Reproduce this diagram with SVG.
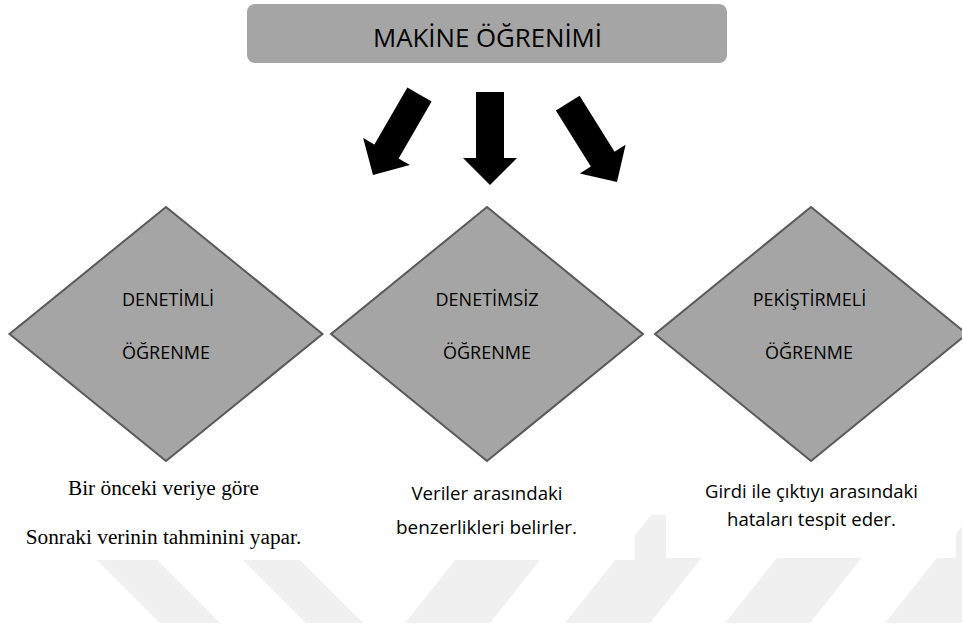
<svg xmlns="http://www.w3.org/2000/svg" width="962" height="628" viewBox="0 0 962 628">
  <style>
    .box{fill:#a5a5a5}
    .dia{fill:#a5a5a5;stroke:#595959;stroke-width:2;stroke-linejoin:miter}
    .sans{font-family:"Open Sans","DejaVu Sans",sans-serif;fill:#000}
    .serif{font-family:"Liberation Serif","Times New Roman",serif;fill:#000}
    .wm{fill:#f0f0f0}
    .arrow{fill:#000}
  </style>
  <defs>
    <!-- block arrow pointing down, tip at the origin -->
    <path id="bigArrow" d="M-14,-93 H14 V-27 H27 L0,0 L-27,-27 H-14 Z"/>
    <clipPath id="wmClip"><rect x="0" y="515" width="962" height="108"/></clipPath>
  </defs>

  <rect width="962" height="628" fill="#fff"/>

  <!-- faint background stripes -->
  <g id="background-stripes" class="wm" clip-path="url(#wmClip)">
    <polygon points="52,515 112,515 220,623 160,623"/>
    <polygon points="198,515 255,515 363,623 306,623"/>
    <polygon points="491,515 576,515 490,623 405,623"/>
    <polygon points="651,515 736,515 650,623 565,623"/>
    <polygon points="811,515 896,515 810,623 725,623"/>
    <polygon points="971,515 1056,515 970,623 885,623"/>
  </g>

  <!-- white panels behind the description texts -->
  <rect x="0" y="455" width="635" height="105" fill="#fff"/>
  <rect x="666" y="455" width="290" height="103" fill="#fff"/>

  <!-- title -->
  <g id="title">
    <rect class="box" x="247" y="4" width="480" height="59" rx="8"/>
    <text class="sans" x="487.5" y="47" font-size="26" text-anchor="middle" textLength="229" lengthAdjust="spacingAndGlyphs">MAKİNE ÖĞRENİMİ</text>
  </g>

  <!-- arrows from the title to the three learning types -->
  <g id="connectors" class="arrow">
    <use href="#bigArrow" transform="translate(373,175) rotate(30)"/>
    <use href="#bigArrow" transform="translate(490,185)"/>
    <use href="#bigArrow" transform="translate(617,182) rotate(-32)"/>
  </g>

  <g id="supervised">
    <polygon class="dia" points="166,207 322.5,334 166,461 9.5,334"/>
    <text class="sans" x="168" y="306" font-size="18" text-anchor="middle">DENETİMLİ</text>
    <text class="sans" x="166" y="359" font-size="18" text-anchor="middle">ÖĞRENME</text>
  </g>

  <g id="unsupervised">
    <polygon class="dia" points="487,207 643,334 487,461 331,334"/>
    <text class="sans" x="487" y="306" font-size="18" text-anchor="middle">DENETİMSİZ</text>
    <text class="sans" x="487" y="359" font-size="18" text-anchor="middle">ÖĞRENME</text>
  </g>

  <g id="reinforcement">
    <polygon class="dia" points="811,207 967,334 811,461 655,334"/>
    <text class="sans" x="809.5" y="306" font-size="18" text-anchor="middle">PEKİŞTİRMELİ</text>
    <text class="sans" x="809" y="359" font-size="18" text-anchor="middle">ÖĞRENME</text>
  </g>

  <g id="supervised-note">
    <text class="serif" x="163.5" y="495" font-size="21.3" text-anchor="middle">Bir önceki veriye göre</text>
    <text class="serif" x="163.5" y="544" font-size="21.3" text-anchor="middle">Sonraki verinin tahminini yapar.</text>
  </g>

  <g id="unsupervised-note">
    <text class="sans" x="411.5" y="500" font-size="19" textLength="151" lengthAdjust="spacingAndGlyphs">Veriler arasındaki</text>
    <text class="sans" x="396" y="534" font-size="19" textLength="181" lengthAdjust="spacingAndGlyphs">benzerlikleri belirler.</text>
  </g>

  <g id="reinforcement-note">
    <text class="sans" x="705" y="498" font-size="19" textLength="213" lengthAdjust="spacingAndGlyphs">Girdi ile çıktıyı arasındaki</text>
    <text class="sans" x="727" y="526" font-size="19" textLength="169" lengthAdjust="spacingAndGlyphs">hataları tespit eder.</text>
  </g>
</svg>
